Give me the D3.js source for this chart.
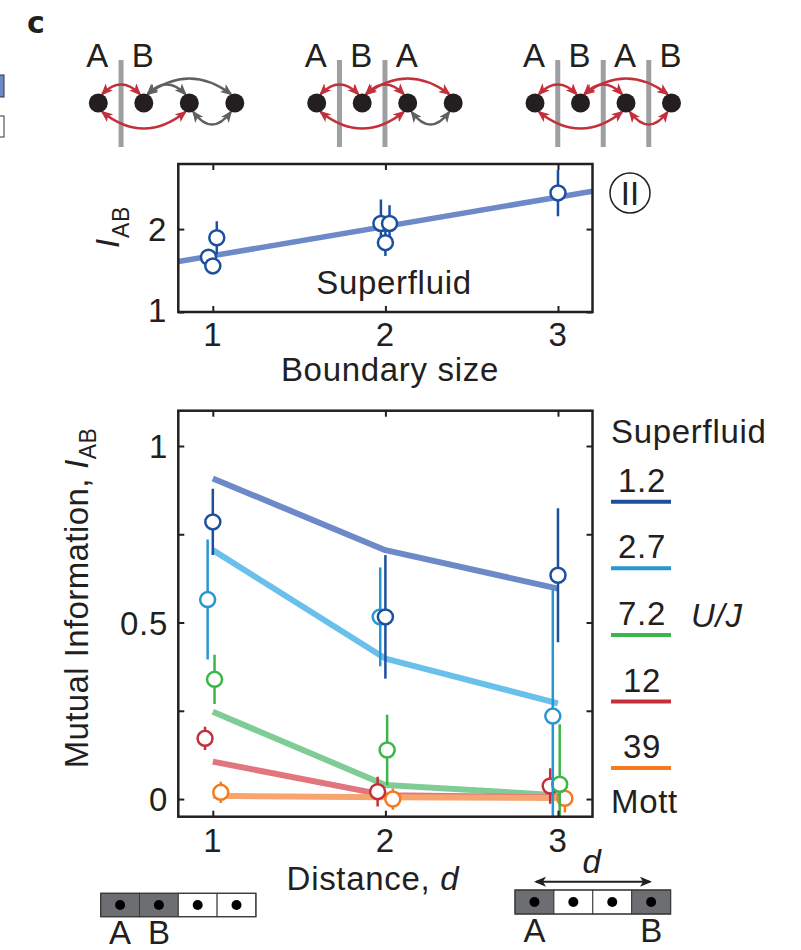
<!DOCTYPE html>
<html>
<head>
<meta charset="utf-8">
<script src="https://cdn.jsdelivr.net/npm/d3@7"></script>
<style>
  html, body { margin: 0; padding: 0; background: #fff; }
  svg { display: block; }
  text { font-family: 'Liberation Sans', Arimo, Helvetica, Arial, sans-serif; fill: #231f20; letter-spacing: 0.7px; }
</style>
</head>
<body>
<svg id="chart" width="801" height="950"></svg>
<script>
'use strict';

// boundary-size panel (superfluid)
const boundarySize = [0.975, 1.0, 1.023, 1.974, 2.024, 2.0, 3.0];
const boundaryInfo = [1.66, 1.556, 1.896, 2.068, 2.068, 1.836, 2.436];
const boundaryErr = [0.08, 0.08, 0.2, 0.29, 0.22, 0.16, 0.28];
const boundaryFitX = [0.8, 3.2];
const boundaryFitY = [1.608, 2.456];
const boundaryTicksX = [1, 2, 3];
const boundaryTicksY = [1, 2];

// distance panel
const distances = [1, 2, 3];
const interactions = ['1.2', '2.7', '7.2', '12', '39'];
const fit12 = [0.908, 0.705, 0.596];
const fit27 = [0.705, 0.398, 0.271];
const fit72 = [0.247, 0.040, 0.011];
const fit120 = [0.106, 0.011, 0.005];
const fit390 = [0.009, 0.005, 0.003];
const measX = [[1.0, 2.0, 3.0], [0.97, 1.97, 2.97], [1.01, 2.01, 3.01], [0.955, 1.955, 2.955], [1.046, 2.043, 3.04]];
const measY = [[0.785, 0.516, 0.634], [0.565, 0.516, 0.235], [0.339, 0.139, 0.042], [0.172, 0.021, 0.037], [0.019, 0.0, 0.002]];
const measErr = [[0.094, 0.175, 0.19], [0.17, 0.14, 0.36], [0.07, 0.1, 0.17], [0.033, 0.042, 0.05], [0.03, 0.03, 0.04]];
const distTicksY = [0, 0.25, 0.5, 0.75, 1];
const distLabelsY = [0, 0.5, 1];

// schematics: site labels, cut positions, couplings [from, to, side, kind]
const schemes = [
  { labels: ['A', 'B'], cuts: [1],
    arcs: [[0, 1, 'up', 'ab'], [1, 2, 'up', 'same'], [1, 3, 'up', 'same'], [0, 2, 'down', 'ab'], [2, 3, 'down', 'same']] },
  { labels: ['A', 'B', 'A'], cuts: [1, 2],
    arcs: [[0, 1, 'up', 'ab'], [1, 2, 'up', 'ab'], [1, 3, 'up', 'ab'], [0, 2, 'down', 'ab'], [2, 3, 'down', 'same']] },
  { labels: ['A', 'B', 'A', 'B'], cuts: [1, 2, 3],
    arcs: [[0, 1, 'up', 'ab'], [1, 2, 'up', 'ab'], [1, 3, 'up', 'ab'], [0, 2, 'down', 'ab'], [2, 3, 'down', 'ab']] }
];

const fits = [fit12, fit27, fit72, fit120, fit390];
const markColor = ['#1d4f9f', '#2797d3', '#3cb54b', '#c3303b', '#f47b20'];
const lineColor = ['#6d89c7', '#69c0ea', '#80cc96', '#e1767e', '#f7a570'];
const ink = '#231f20';
const fs = '33px';

const svg = d3.select('#chart');
const defs = svg.append('defs');

function arrowMarker(id, color) {
  defs.append('marker')
    .attr('id', id)
    .attr('viewBox', '0 0 12 10')
    .attr('refX', 10).attr('refY', 5)
    .attr('markerWidth', 12).attr('markerHeight', 10)
    .attr('markerUnits', 'userSpaceOnUse')
    .attr('orient', 'auto-start-reverse')
    .append('path')
    .attr('d', 'M0,0 L12,5 L0,10 L3,5 z')
    .attr('fill', color);
}
arrowMarker('arr-ab', '#c3303b');
arrowMarker('arr-same', '#5f6062');
arrowMarker('arr-k', ink);

// panel letter
svg.append('text').attr('x', 27).attr('y', 33)
  .style('font-size', '30px').style('font-weight', 900)
  .style('font-family', "'DejaVu Sans', Arial, sans-serif")
  .text('c');

// clipped legend boxes from neighbouring panel
svg.append('rect').attr('x', -4).attr('y', 75).attr('width', 8).attr('height', 22)
  .attr('fill', '#6d89c7').attr('stroke', '#333').attr('stroke-width', 1);
svg.append('rect').attr('x', -4).attr('y', 116).attr('width', 8).attr('height', 21)
  .attr('fill', '#fff').attr('stroke', '#333').attr('stroke-width', 1);

// ---------- schematics ----------
const schemeStart = [98.3, 316.7, 535];
const siteGap = 45.5;
const siteY = 103;

schemes.forEach((s, k) => {
  const g = svg.append('g');
  const sx = i => schemeStart[k] + i * siteGap;

  s.cuts.forEach(c => {
    g.append('line')
      .attr('x1', sx(c) - siteGap / 2).attr('x2', sx(c) - siteGap / 2)
      .attr('y1', 60).attr('y2', 147)
      .attr('stroke', '#9d9fa2').attr('stroke-width', 5);
  });

  s.labels.forEach((l, i) => {
    g.append('text').attr('x', sx(i) - 1).attr('y', 67)
      .attr('text-anchor', 'middle').style('font-size', fs).style('letter-spacing', '0px')
      .text(l);
  });

  s.arcs.forEach(([a, b, side, kind]) => {
    const dir = side === 'up' ? -1 : 1;
    const span = b - a;
    const depth = side === 'up' ? (span > 1 ? 40 : 28) : (span > 1 ? 42 : 34);
    const x1 = sx(a) + 4, x2 = sx(b) - 4;
    const y0 = siteY + dir * 9;
    const cy = siteY + dir * depth;
    g.append('path')
      .attr('d', `M${x1},${y0} Q${(x1 + x2) / 2},${cy} ${x2},${y0}`)
      .attr('fill', 'none')
      .attr('stroke', kind === 'ab' ? '#c3303b' : '#5f6062')
      .attr('stroke-width', 2.5)
      .attr('marker-start', `url(#arr-${kind})`)
      .attr('marker-end', `url(#arr-${kind})`);
  });

  d3.range(4).forEach(i => {
    g.append('circle').attr('cx', sx(i)).attr('cy', siteY).attr('r', 9.5).attr('fill', ink);
  });
});

// ---------- boundary-size panel ----------
const bx = d3.scaleLinear().domain([0.8, 3.2]).range([178.3, 592.5]);
const by = d3.scaleLinear().domain([1, 2.785]).range([312, 164]);

defs.append('clipPath').attr('id', 'clip-b').append('rect')
  .attr('x', bx.range()[0]).attr('y', by.range()[1])
  .attr('width', bx.range()[1] - bx.range()[0]).attr('height', by.range()[0] - by.range()[1]);

const gb = svg.append('g');
const gbPlot = gb.append('g').attr('clip-path', 'url(#clip-b)');

gbPlot.append('path')
  .datum(d3.zip(boundaryFitX, boundaryFitY))
  .attr('d', d3.line().x(d => bx(d[0])).y(d => by(d[1])))
  .attr('fill', 'none').attr('stroke', '#6d89c7').attr('stroke-width', 5.5);

const bPts = boundarySize.map((x, i) => ({ x, y: boundaryInfo[i], e: boundaryErr[i] }));
gbPlot.selectAll('.berr').data(bPts).join('line')
  .attr('x1', d => bx(d.x)).attr('x2', d => bx(d.x))
  .attr('y1', d => by(d.y - d.e)).attr('y2', d => by(d.y + d.e))
  .attr('stroke', '#1d4f9f').attr('stroke-width', 2.5);
gbPlot.selectAll('.bpt').data(bPts).join('circle')
  .attr('cx', d => bx(d.x)).attr('cy', d => by(d.y)).attr('r', 7.5)
  .attr('fill', '#fff').attr('stroke', '#1d4f9f').attr('stroke-width', 2.5);

gb.append('g').attr('transform', `translate(0,${by.range()[0]})`)
  .call(d3.axisBottom(bx).tickValues(boundaryTicksX).tickSize(-6).tickFormat(''));
gb.append('g').attr('transform', `translate(0,${by.range()[1]})`)
  .call(d3.axisTop(bx).tickValues(boundaryTicksX).tickSize(-6).tickFormat(''));
gb.append('g').attr('transform', `translate(${bx.range()[0]},0)`)
  .call(d3.axisLeft(by).tickValues(boundaryTicksY).tickSize(-6).tickFormat(''));
gb.append('g').attr('transform', `translate(${bx.range()[1]},0)`)
  .call(d3.axisRight(by).tickValues(boundaryTicksY).tickSize(-6).tickFormat(''));
gb.selectAll('.domain').remove();
gb.selectAll('.tick line').attr('stroke', ink).attr('stroke-width', 2);

gb.append('rect')
  .attr('x', bx.range()[0]).attr('y', by.range()[1])
  .attr('width', bx.range()[1] - bx.range()[0]).attr('height', by.range()[0] - by.range()[1])
  .attr('fill', 'none').attr('stroke', ink).attr('stroke-width', 2.5);

boundaryTicksX.forEach(t => {
  gb.append('text').attr('x', bx(t)).attr('y', 346)
    .attr('text-anchor', 'middle').style('font-size', fs).text(t);
});
boundaryTicksY.forEach(t => {
  gb.append('text').attr('x', 167).attr('y', by(t) + (t === 1 ? 10 : 12))
    .attr('text-anchor', 'end').style('font-size', fs).text(t);
});
gb.append('text').attr('x', 390).attr('y', 381)
  .attr('text-anchor', 'middle').style('font-size', fs).text('Boundary size');
gb.append('text').attr('x', 394).attr('y', 294)
  .attr('text-anchor', 'middle').style('font-size', fs).text('Superfluid');

const bLab = gb.append('text')
  .attr('transform', 'translate(119,227) rotate(-90)')
  .attr('text-anchor', 'middle').style('font-size', fs);
bLab.append('tspan').style('font-style', 'italic').text('I');
bLab.append('tspan').attr('dy', 10).style('font-size', '23px').text('AB');

gb.append('circle').attr('cx', 630).attr('cy', 193).attr('r', 20)
  .attr('fill', 'none').attr('stroke', ink).attr('stroke-width', 1.5);
gb.append('text').attr('x', 630).attr('y', 205)
  .attr('text-anchor', 'middle').style('font-size', fs).style('letter-spacing', '0px').text('II');

// ---------- distance panel ----------
const dx = d3.scaleLinear().domain([0.8, 3.2]).range([178.3, 592.5]);
const dy = d3.scaleLinear().domain([-0.05, 1.1]).range([816.7, 410.7]);

defs.append('clipPath').attr('id', 'clip-d').append('rect')
  .attr('x', dx.range()[0]).attr('y', dy.range()[1])
  .attr('width', dx.range()[1] - dx.range()[0]).attr('height', dy.range()[0] - dy.range()[1]);

const gd = svg.append('g');
const gdPlot = gd.append('g').attr('clip-path', 'url(#clip-d)');

const line = d3.line().x(d => dx(d[0])).y(d => dy(d[1]));
fits.forEach((f, s) => {
  gdPlot.append('path')
    .datum(d3.zip(distances, f))
    .attr('d', line)
    .attr('fill', 'none').attr('stroke', lineColor[s]).attr('stroke-width', 6)
    .attr('stroke-linejoin', 'round');
});

// draw from Mott side up so superfluid points sit on top
d3.range(interactions.length).reverse().forEach(s => {
  const pts = measX[s].map((x, i) => ({ x, y: measY[s][i], e: measErr[s][i] }));
  const g = gdPlot.append('g');
  g.selectAll('line').data(pts).join('line')
    .attr('x1', d => dx(d.x)).attr('x2', d => dx(d.x))
    .attr('y1', d => dy(d.y - d.e)).attr('y2', d => dy(d.y + d.e))
    .attr('stroke', markColor[s]).attr('stroke-width', 2.5);
  g.selectAll('circle').data(pts).join('circle')
    .attr('cx', d => dx(d.x)).attr('cy', d => dy(d.y)).attr('r', 7.5)
    .attr('fill', '#fff').attr('stroke', markColor[s]).attr('stroke-width', 2.5);
});

gd.append('g').attr('transform', `translate(0,${dy.range()[0]})`)
  .call(d3.axisBottom(dx).tickValues(distances).tickSize(-6).tickFormat(''));
gd.append('g').attr('transform', `translate(0,${dy.range()[1]})`)
  .call(d3.axisTop(dx).tickValues(distances).tickSize(-6).tickFormat(''));
gd.append('g').attr('transform', `translate(${dx.range()[0]},0)`)
  .call(d3.axisLeft(dy).tickValues(distTicksY).tickSize(-6).tickFormat(''));
gd.append('g').attr('transform', `translate(${dx.range()[1]},0)`)
  .call(d3.axisRight(dy).tickValues(distTicksY).tickSize(-6).tickFormat(''));
gd.selectAll('.domain').remove();
gd.selectAll('.tick line').attr('stroke', ink).attr('stroke-width', 2);

gd.append('rect')
  .attr('x', dx.range()[0]).attr('y', dy.range()[1])
  .attr('width', dx.range()[1] - dx.range()[0]).attr('height', dy.range()[0] - dy.range()[1])
  .attr('fill', 'none').attr('stroke', ink).attr('stroke-width', 2.5);

distances.forEach(t => {
  gd.append('text').attr('x', dx(t)).attr('y', 852)
    .attr('text-anchor', 'middle').style('font-size', fs).text(t);
});
distLabelsY.forEach(t => {
  gd.append('text').attr('x', 168).attr('y', dy(t) + 12)
    .attr('text-anchor', 'end').style('font-size', fs).text(t);
});

const xLab = gd.append('text').attr('x', 373).attr('y', 890)
  .attr('text-anchor', 'middle').style('font-size', fs);
xLab.append('tspan').text('Distance, ');
xLab.append('tspan').style('font-style', 'italic').text('d');

const yLab = gd.append('text')
  .attr('transform', 'translate(88,598) rotate(-90)')
  .attr('text-anchor', 'middle').style('font-size', fs).style('letter-spacing', '0.4px');
yLab.append('tspan').text('Mutual Information, ');
yLab.append('tspan').style('font-style', 'italic').text('I');
yLab.append('tspan').attr('dy', 8).style('font-size', '23px').text('AB');

// legend
const legX0 = 611, legX1 = 671, legTop = 491.7, legStep = 66.6;
gd.append('text').attr('x', legX0).attr('y', 443).style('font-size', fs).text('Superfluid');
interactions.forEach((u, i) => {
  const y = legTop + i * legStep;
  gd.append('text').attr('x', (legX0 + legX1) / 2 + 1).attr('y', y)
    .attr('text-anchor', 'middle').style('font-size', fs).text(u);
  gd.append('line').attr('x1', legX0).attr('x2', legX1)
    .attr('y1', y + 10).attr('y2', y + 10)
    .attr('stroke', markColor[i]).attr('stroke-width', 4);
});
gd.append('text').attr('x', legX0).attr('y', 813).style('font-size', fs).text('Mott');
gd.append('text').attr('x', 691).attr('y', 627)
  .style('font-size', fs).style('font-style', 'italic').text('U/J');

// ---------- bottom site sketches ----------
function siteStrip(x0, y0, cellW, cellH, filled, labels, labelY) {
  const g = svg.append('g');
  filled.forEach((f, i) => {
    g.append('rect').attr('x', x0 + i * cellW).attr('y', y0)
      .attr('width', cellW).attr('height', cellH)
      .attr('fill', f ? '#6d6e71' : '#fff').attr('stroke', '#3a3a3a').attr('stroke-width', 1);
  });
  g.append('rect').attr('x', x0).attr('y', y0).attr('width', cellW * filled.length).attr('height', cellH)
    .attr('fill', 'none').attr('stroke', '#3a3a3a').attr('stroke-width', 1.2);
  filled.forEach((f, i) => {
    g.append('circle').attr('cx', x0 + (i + 0.5) * cellW).attr('cy', y0 + cellH / 2)
      .attr('r', 5).attr('fill', '#000');
  });
  labels.forEach(([l, i]) => {
    g.append('text').attr('x', x0 + (i + 0.5) * cellW).attr('y', labelY)
      .attr('text-anchor', 'middle').style('font-size', fs).style('letter-spacing', '0px').text(l);
  });
  return g;
}

siteStrip(100.7, 893.3, 38.8, 23.4, [true, true, false, false], [['A', 0], ['B', 1]], 944);
const right = siteStrip(515, 890, 38.9, 24, [true, false, false, true], [['A', 0], ['B', 3]], 942);
right.append('line').attr('x1', 536).attr('x2', 650).attr('y1', 881.7).attr('y2', 881.7)
  .attr('stroke', ink).attr('stroke-width', 2)
  .attr('marker-start', 'url(#arr-k)').attr('marker-end', 'url(#arr-k)');
right.append('text').attr('x', 592).attr('y', 873)
  .attr('text-anchor', 'middle').style('font-size', fs).style('font-style', 'italic').text('d');
</script>
</body>
</html>
